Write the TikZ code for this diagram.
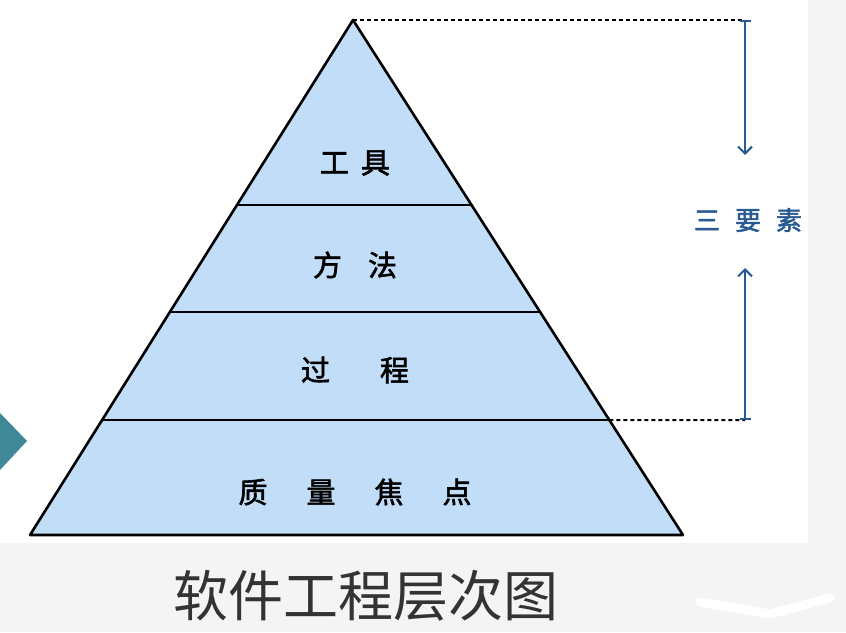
\documentclass[tikz,border=0pt]{standalone}
\usepackage{fontspec}
\newfontfamily\cjk{Noto Sans CJK SC}
\newfontfamily\cjkheavy[FakeBold=2]{Noto Sans CJK SC}
\usetikzlibrary{arrows.meta,calc}
\definecolor{pyrblue}{RGB}{194,221,247}
\definecolor{markblue}{RGB}{40,90,145}
\definecolor{bandgray}{RGB}{244,244,244}
\definecolor{tealtip}{RGB}{62,136,152}
\definecolor{captiongray}{RGB}{51,51,51}

\tikzset{
  layertext/.style={font=\cjkheavy\fontsize{29}{29}\selectfont,text=black},
  guide/.style={black,line width=2pt,dash pattern=on 4pt off 3pt},
  spanarrow/.style={markblue,line width=2pt,{Bar[width=11pt]}-{Straight Barb[length=7pt,width=14pt]}}
}

\begin{document}
\begin{tikzpicture}[x=1pt,y=-1pt]
  \useasboundingbox (0,0) rectangle (846,632);
  % background
  \fill[bandgray] (0,0) rectangle (846,632);
  \fill[white] (0,0) rectangle (808,543);
  \fill[tealtip] (0,413) -- (27,441) -- (0,470) -- cycle;
  \draw[white,line width=9pt,line cap=round] (700,602) -- (770,614) -- (830,598);
  % pyramid
  \coordinate (apex) at (353,20);
  \coordinate (bl) at (30,535);
  \coordinate (br) at (683,535);
  \fill[pyrblue] (apex) -- (bl) -- (br) -- cycle;
  \draw[black,line width=2.6pt,line join=round] (apex) -- (bl) -- (br) -- cycle;
  \foreach \t/\n in {0.359/a,0.567/b,0.777/c} {
    \coordinate (l\n) at ($(apex)!\t!(bl)$);
    \coordinate (r\n) at ($(apex)!\t!(br)$);
    \draw[black,line width=2pt] (l\n) -- (r\n);
  }
  \node[layertext] (tools) at (355,163) {工\hspace{12pt}具};
  \node[layertext] (methods) at (355,265) {方\hspace{26pt}法};
  \node[layertext] (process) at (355,370) {过\hspace{50pt}程};
  \node[layertext] (quality) at (355,492) {质\hspace{39pt}量\hspace{39pt}焦\hspace{39pt}点};
  % three elements
  \coordinate (topmark) at (745,20);
  \coordinate (topend) at (745,155);
  \coordinate (lowmark) at (745,420);
  \coordinate (lowend) at (745,268);
  \draw[guide] (apex) -- (topmark);
  \draw[guide] (rc) -- (lowmark);
  \node[font=\cjkheavy\fontsize{26}{26}\selectfont,text=markblue] (elements) at (748,220) {三\hspace{15pt}要\hspace{15pt}素};
  \draw[spanarrow] (topmark) -- (topend);
  \draw[spanarrow] (lowmark) -- (lowend);
  % caption
  \node[font=\cjk\fontsize{55}{55}\selectfont,text=captiongray] (caption) at (366,596) {软件工程层次图};
\end{tikzpicture}
\end{document}
